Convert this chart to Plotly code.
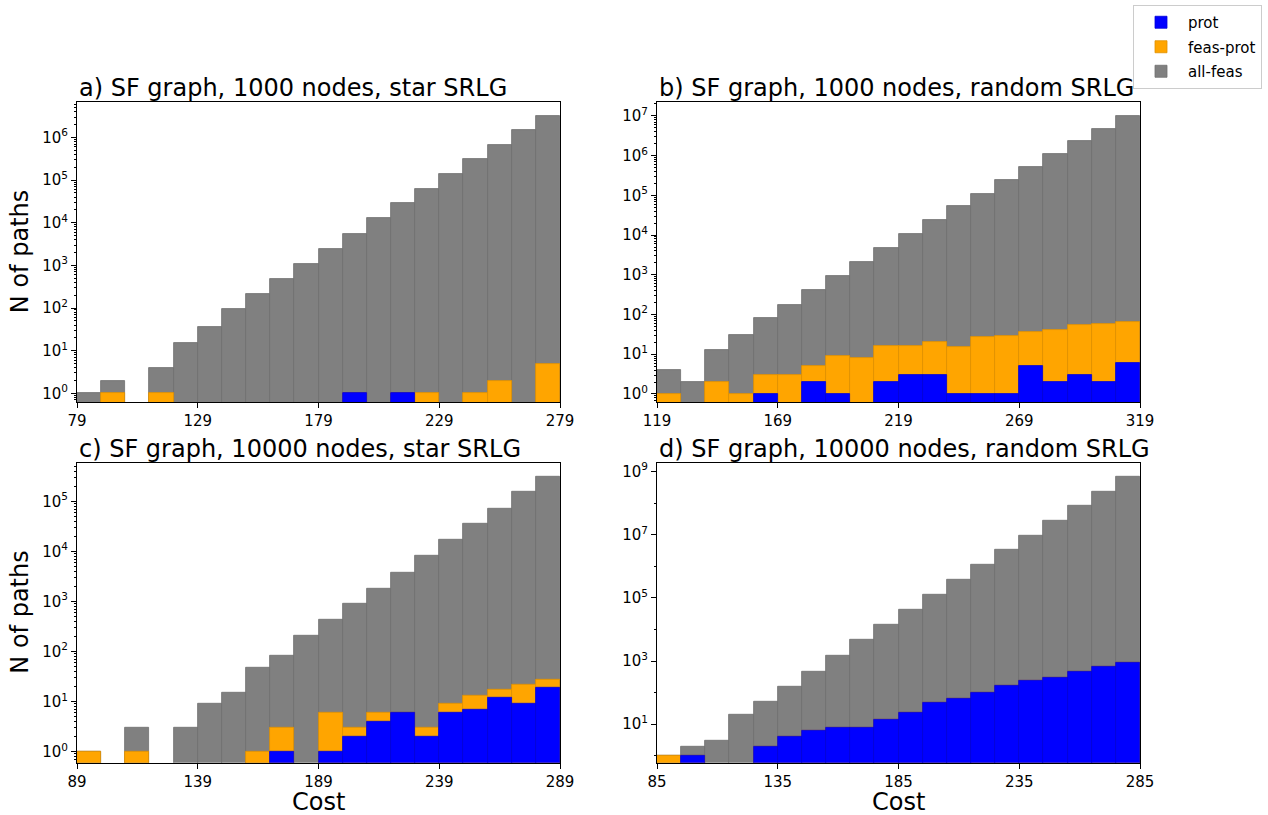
import plotly.graph_objects as go

W, H = 1268, 815
BIN = 10

# ---- data (counts per cost bin, 20 bins of width 10) ----
a_start = 79
a_all = [1, 2, 0, 4, 15, 35, 96, 212, 470, 1070, 2450, 5400, 12600, 28300, 63000,
         138000, 305000, 675000, 1480000, 3170000]
a_feas = [0, 1, 0, 1, 0, 0, 0, 0, 0, 0, 0, 1, 0, 1, 1, 0, 1, 2, 0, 5]
a_prot = [0, 0, 0, 0, 0, 0, 0, 0, 0, 0, 0, 1, 0, 1, 0, 0, 0, 0, 0, 0]

b_start = 119
b_all = [4, 2, 13, 31, 81, 178, 415, 960, 2090, 4860, 10700, 24000, 53000, 110000,
         242000, 515000, 1090000, 2400000, 4800000, 10000000]
b_feas = [1, 0, 2, 1, 3, 3, 5, 9, 8, 16, 16, 20, 15, 27, 28, 36, 41, 53, 58, 65]
b_prot = [0, 0, 0, 0, 1, 0, 2, 1, 0, 2, 3, 3, 1, 1, 1, 5, 2, 3, 2, 6]

c_start = 89
c_all = [1, 0, 3, 0, 3, 9, 15, 48, 83, 205, 437, 890, 1820, 3830, 8100, 16700,
         35300, 72500, 152000, 310000]
c_feas = [1, 0, 1, 0, 0, 0, 0, 1, 3, 0, 6, 3, 6, 6, 3, 9, 13, 17, 22, 27]
c_prot = [0, 0, 0, 0, 0, 0, 0, 0, 1, 0, 1, 2, 4, 6, 2, 6, 7, 12, 9, 19]

d_start = 85
d_all = [1, 2, 3, 20, 52, 158, 458, 1510, 4600, 14100, 41000, 126000, 380000,
         1130000, 3300000, 9500000, 27700000, 81000000, 236000000, 690000000]
d_feas = [1, 1, 0, 0, 2, 4, 6, 8, 8, 14, 23, 49, 63, 97, 162, 238, 302, 447, 676, 890]
d_prot = [0, 1, 0, 0, 2, 4, 6, 8, 8, 14, 23, 49, 63, 97, 162, 238, 302, 447, 676, 890]

titles = ["a) SF graph, 1000 nodes, star SRLG",
          "b) SF graph, 1000 nodes, random SRLG",
          "c) SF graph, 10000 nodes, star SRLG",
          "d) SF graph, 10000 nodes, random SRLG"]

series_names = ["all-feas", "feas-prot", "prot"]
series_colors = ["#808080", "#ffa500", "#0000ff"]
edge_colors = ["#6e6e6e", "#e09100", "#0000d8"]
legend_ranks = [3, 2, 1]

panels = [
    (a_start, [a_all, a_feas, a_prot], [-0.21, 6.83], list(range(0, 7)), None),
    (b_start, [b_all, b_feas, b_prot], [-0.21, 7.35], list(range(0, 8)), None),
    (c_start, [c_all, c_feas, c_prot], [-0.22, 5.77], list(range(0, 6)), None),
    (d_start, [d_all, d_feas, d_prot], [-0.22, 9.28], [1, 3, 5, 7, 9], [0, 2, 4, 6, 8]),
]

# axes boxes in pixels: (left, right, top, bottom)
boxes = [(77, 560, 102, 402.3), (657, 1140, 102, 402.3),
         (77, 560, 462.7, 762.7), (657, 1140, 462.7, 762.7)]

fig = go.Figure()
FONT = "DejaVu Sans"

for k, (start, series, yr, majors, minors) in enumerate(panels):
    xa = "x" if k == 0 else f"x{k+1}"
    ya = "y" if k == 0 else f"y{k+1}"
    centers = [start + BIN * i + BIN / 2 for i in range(20)]
    for s, vals in enumerate(series):
        yv = [v if v > 0 else None for v in vals]
        fig.add_trace(go.Bar(
            x=centers, y=yv, width=[BIN] * 20, xaxis=xa, yaxis=ya,
            name=series_names[s], legendgroup=series_names[s], showlegend=(k == 0),
            legendrank=legend_ranks[s],
            marker=dict(color=series_colors[s], line=dict(color=edge_colors[s], width=0.8)),
        ))
    l, r, t, b = boxes[k]
    xdom = [l / W, r / W]
    ydom = [1 - b / H, 1 - t / H]
    xkey = "xaxis" if k == 0 else f"xaxis{k+1}"
    ykey = "yaxis" if k == 0 else f"yaxis{k+1}"
    minor = dict(ticks="outside", ticklen=2.5, tickwidth=0.8, tickcolor="black", dtick="D1", showgrid=False)
    if minors is not None:
        minor = dict(ticks="outside", ticklen=2.5, tickwidth=0.8, tickcolor="black",
                     tickmode="array", tickvals=[10 ** m for m in minors], showgrid=False)
    fig.update_layout(**{
        xkey: dict(domain=xdom, anchor=ya, range=[start, start + 20 * BIN],
                   tickmode="array", tickvals=[start + 50 * j for j in range(5)],
                   ticks="outside", ticklen=5, tickwidth=1, tickcolor="black",
                   showline=True, linecolor="black", linewidth=1, mirror=True,
                   showgrid=False, zeroline=False, automargin=False,
                   tickfont=dict(family=FONT, size=15, color="black")),
        ykey: dict(domain=ydom, anchor=xa, type="log", range=yr,
                   tickmode="array", tickvals=[10 ** m for m in majors],
                   ticktext=[f"10<sup>{m}</sup>" for m in majors],
                   ticks="outside", ticklen=5, tickwidth=1, tickcolor="black",
                   showline=True, linecolor="black", linewidth=1, mirror=True,
                   showgrid=False, zeroline=False, minor=minor, automargin=False,
                   tickfont=dict(family=FONT, size=15, color="black")),
    })
    fig.add_annotation(text=titles[k], xref="paper", yref="paper",
                       x=l / W, y=1 - t / H, xanchor="left", yanchor="bottom",
                       yshift=-2, showarrow=False,
                       font=dict(family=FONT, size=24, color="black"))

# axis labels
for (l, r, t, b) in [boxes[0], boxes[2]]:
    fig.add_annotation(text="N of paths", xref="paper", yref="paper",
                       x=20 / W, y=1 - ((t + b) / 2) / H, textangle=-90,
                       xanchor="center", yanchor="middle", showarrow=False,
                       font=dict(family=FONT, size=24, color="black"))
for (l, r, t, b) in [boxes[2], boxes[3]]:
    fig.add_annotation(text="Cost", xref="paper", yref="paper",
                       x=((l + r) / 2) / W, y=1 - 801.5 / H,
                       xanchor="center", yanchor="middle", showarrow=False,
                       font=dict(family=FONT, size=24, color="black"))

fig.update_layout(
    width=W, height=H, margin=dict(l=0, r=0, t=0, b=0, autoexpand=False),
    paper_bgcolor="white", plot_bgcolor="white",
    barmode="overlay", bargap=0,
    font=dict(family=FONT, color="black"),
    legend=dict(x=1133 / W, y=1 - 5 / H, xanchor="left", yanchor="top",
                traceorder="grouped", tracegroupgap=2,
                bordercolor="#cccccc", borderwidth=1,
                bgcolor="white", font=dict(family=FONT, size=15, color="black"),
                itemwidth=44),
)

fig.write_html("out.html", config={"displayModeBar": False},
               post_script="document.body.style.margin='0';document.body.style.padding='0';")
